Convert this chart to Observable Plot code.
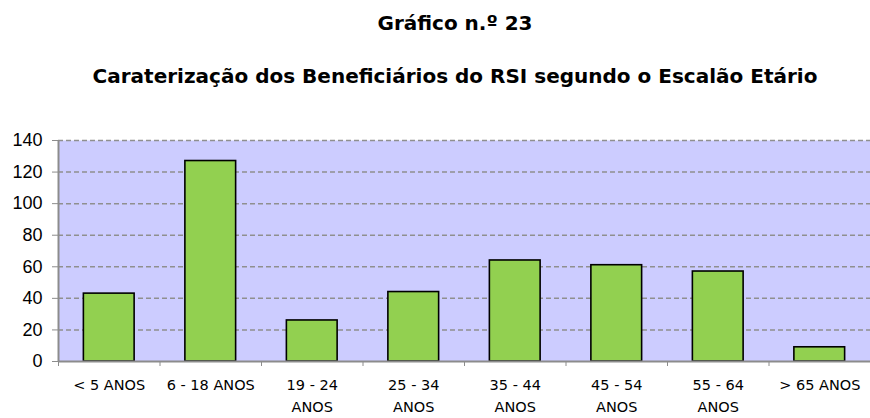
<!DOCTYPE html>
<html>
<head>
<meta charset="utf-8">
<script src="https://cdn.jsdelivr.net/npm/d3@7"></script>
<script src="https://cdn.jsdelivr.net/npm/@observablehq/plot@0.6"></script>
<style>
  html, body { margin: 0; padding: 0; background: #fff; }
  body { width: 870px; height: 418px; overflow: hidden; }
  #titles { position: relative; height: 100px; font-family: "DejaVu Sans", sans-serif; font-weight: bold; color: #000; }
  #titles div { position: absolute; left: 455px; transform: translateX(-50%); white-space: nowrap; line-height: 20px; }
  #t1 { top: 13px; font-size: 20px; }
  #t2 { top: 66px; font-size: 20px; }
</style>
</head>
<body>
<div id="titles">
  <div id="t1">Gráfico n.º 23</div>
  <div id="t2">Caraterização dos Beneficiários do RSI segundo o Escalão Etário</div>
</div>
<div id="chart"></div>
<script>
const categories = ["< 5 ANOS", "6 - 18 ANOS", "19 - 24 ANOS", "25 - 34 ANOS", "35 - 44 ANOS", "45 - 54 ANOS", "55 - 64 ANOS", "> 65 ANOS"];
const tickLabels = ["< 5 ANOS", "6 - 18 ANOS", "19 - 24\nANOS", "25 - 34\nANOS", "35 - 44\nANOS", "45 - 54\nANOS", "55 - 64\nANOS", "> 65 ANOS"];
const values = [43, 127, 26, 44, 64, 61, 57, 9];
const yTicks = [0, 20, 40, 60, 80, 100, 120, 140];

const data = categories.map((c, i) => ({category: c, index: i, value: values[i]}));
const centers = categories.map((c, i) => i + 0.5);
const bounds = d3.range(categories.length + 1);

const chart = Plot.plot({
  width: 870,
  height: 318,
  marginLeft: 58,
  marginRight: 0,
  marginTop: 40,
  marginBottom: 57,
  style: {background: "transparent", fontFamily: "'DejaVu Sans', sans-serif", overflow: "visible"},
  x: {type: "linear", domain: [0, categories.length]},
  y: {domain: [0, 140]},
  marks: [
    Plot.frame({fill: "#ccccff", stroke: null}),
    Plot.ruleY(yTicks.filter(v => v > 0), {stroke: "#8f8f8f", strokeWidth: 1.5, strokeDasharray: "5,3"}),
    Plot.rectY(data, {x1: d => d.index + 0.25, x2: d => d.index + 0.75, y1: 0, y2: "value", fill: "#92d050", stroke: "#000", strokeWidth: 1.6}),
    Plot.ruleY([0], {stroke: "#8c8c8c", strokeWidth: 2}),
    Plot.ruleX([0], {stroke: "#8c8c8c", strokeWidth: 2}),
    Plot.axisY({ticks: yTicks, tickSize: 6, tickPadding: 10, stroke: "#8c8c8c", fill: "#000", fontSize: 18, fontFamily: "'Liberation Sans', Arial, sans-serif", label: null, tickFormat: d => String(d)}),
    Plot.axisX({ticks: bounds, tickSize: 5, stroke: "#8c8c8c", tickFormat: () => "", label: null}),
    Plot.axisX({ticks: centers, tickSize: 0, tickPadding: 13, fill: "#000", fontSize: 14.5, lineHeight: 1.5, label: null, tickFormat: v => tickLabels[Math.floor(v)]})
  ]
});
document.getElementById("chart").appendChild(chart);
</script>
</body>
</html>
